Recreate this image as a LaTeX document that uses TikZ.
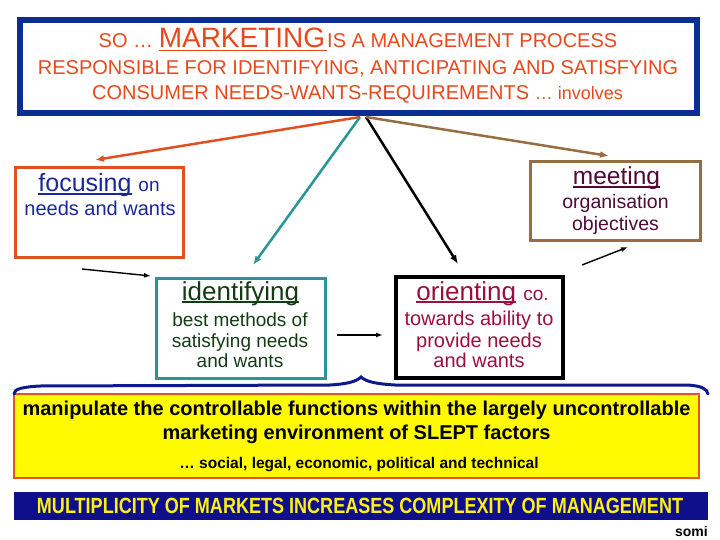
\documentclass[tikz,border=0pt]{standalone}
\usepackage{fontspec}
\setmainfont{Liberation Sans}
\newfontfamily\narrowsans[FakeStretch=0.82]{Liberation Sans}
\usetikzlibrary{arrows.meta}
\definecolor{topblue}{RGB}{12,45,145}
\definecolor{toptext}{RGB}{232,72,28}
\definecolor{focusborder}{RGB}{225,80,35}
\definecolor{focustext}{RGB}{25,40,150}
\definecolor{meetborder}{RGB}{150,110,65}
\definecolor{meettext}{RGB}{80,10,55}
\definecolor{identborder}{RGB}{40,150,150}
\definecolor{identtext}{RGB}{20,60,20}
\definecolor{orienttext}{RGB}{155,15,60}
\definecolor{yellowfill}{RGB}{255,250,0}
\definecolor{yellowborder}{RGB}{230,85,30}
\definecolor{bracecol}{RGB}{15,25,140}
\definecolor{barfill}{RGB}{15,15,140}
\definecolor{bartext}{RGB}{255,240,20}
\newcommand{\fs}[1]{\fontsize{#1}{#1}\selectfont}
\newsavebox{\ulbox}
\newcommand{\myul}[1]{\sbox{\ulbox}{#1}\rlap{\rule[-0.12em]{\wd\ulbox}{0.065em}}\usebox{\ulbox}}
\begin{document}
\begin{tikzpicture}[x=1pt,y=-1pt,
  box/.style={rectangle,inner sep=0pt,outer sep=0pt},
  txt/.style={inner sep=0pt,anchor=base},
  bigarrow/.style={line width=2.5pt,-{Latex[length=9pt,width=7pt]}},
  smallarrow/.style={line width=1.4pt,black,-{Latex[length=7pt,width=5pt]}}]
\useasboundingbox (0,0) rectangle (720,540);

% top box
\node[box,draw=topblue,line width=6pt,minimum width=677pt,minimum height=93pt] (topbox) at (358.5,66.5) {};
\node[txt,text=toptext] (t1) at (358,48) {\fs{20}SO \dots\ \fs{28}\myul{MARKETING\hspace{2pt}}\fs{20}IS A MANAGEMENT PROCESS};
\node[txt,text=toptext] (t2) at (358,75) {\fs{20}RESPONSIBLE FOR IDENTIFYING, ANTICIPATING AND SATISFYING};
\node[txt,text=toptext] (t3) at (357.5,100) {\fs{20}CONSUMER NEEDS-WANTS-REQUIREMENTS \fs{18}\dots\ involves};

% focusing box
\node[box,draw=focusborder,line width=3pt,minimum width=168pt,minimum height=90pt] (focusbox) at (99.5,212.5) {};
\node[txt,text=focustext] (f1) at (99,192) {\fs{25}\myul{focusing} \fs{19}on};
\node[txt,text=focustext] (f2) at (100,215) {\fs{20}needs and wants};

% meeting box
\node[box,draw=meetborder,line width=3pt,minimum width=170pt,minimum height=78.5pt] (meetbox) at (615.5,200.75) {};
\node[txt,text=meettext] (m1) at (616.5,185) {\fs{24.5}\myul{meeting}};
\node[txt,text=meettext] (m2) at (615.5,209) {\fs{19.5}organisation};
\node[txt,text=meettext] (m3) at (615.5,230) {\fs{19.5}objectives};

% identifying box
\node[box,draw=identborder,line width=3pt,minimum width=169pt,minimum height=100pt] (identbox) at (241,328.5) {};
\node[txt,text=identtext] (i1) at (240.5,300) {\fs{26}\myul{identifying}};
\node[txt,text=identtext] (i2) at (240,326) {\fs{19}best methods of};
\node[txt,text=identtext] (i3) at (240,347) {\fs{19}satisfying needs};
\node[txt,text=identtext] (i4) at (240,367) {\fs{19}and wants};

% orienting box
\node[box,draw=black,line width=4pt,minimum width=167pt,minimum height=101pt] (orientbox) at (479.5,327.5) {};
\node[txt,text=orienttext] (o1) at (482.5,300) {\fs{26}\myul{orienting} \fs{19}co.};
\node[txt,text=orienttext] (o2) at (479,325) {\fs{20}towards ability to};
\node[txt,text=orienttext] (o3) at (479,347) {\fs{20}provide needs};
\node[txt,text=orienttext] (o4) at (479,367) {\fs{20}and wants};

% yellow box
\node[box,draw=yellowborder,fill=yellowfill,line width=2.5pt,minimum width=685pt,minimum height=84pt] (yellowbox) at (356.5,436) {};
\node[txt] (y1) at (356.5,415) {\fs{20}\bfseries manipulate the controllable functions within the largely uncontrollable};
\node[txt] (y2) at (356.5,439) {\fs{20}\bfseries marketing environment of SLEPT factors};
\node[txt] (y3) at (359,468) {\fs{15.5}\bfseries \dots\ social, legal, economic, political and technical};

% brace
\draw[bracecol,line width=3pt,line cap=round] (14,394) .. controls (14,389) and (22,387) .. (40,386) -- (330,385) .. controls (346,384) and (356,382) .. (361,377) .. controls (366,382) and (378,384) .. (395,385) -- (688,385) .. controls (702,386) and (707,389) .. (708,394);

% bottom bar
\node[box,fill=barfill,minimum width=694pt,minimum height=28pt] (bar) at (361,506) {};
\node[txt,text=bartext] (b1) at (360,513) {\narrowsans\fs{22}\bfseries MULTIPLICITY OF MARKETS INCREASES COMPLEXITY OF MANAGEMENT};
\node[txt,anchor=base east] (somi) at (708,536) {\fs{14}\bfseries somi};

% arrows from top box
\coordinate (hubA) at (360,117);
\coordinate (hubB) at (366,117);
\coordinate (endF) at (95,160);
\coordinate (endI) at (253,265);
\coordinate (endO) at (458,264);
\coordinate (endM) at (609,156);
\draw[bigarrow,focusborder] (hubA) -- (endF);
\draw[bigarrow,identborder] (hubA) -- (endI);
\draw[bigarrow,black] (hubB) -- (endO);
\draw[bigarrow,meetborder] (hubB) -- (endM);

% small arrows
\coordinate (sa1) at (82,269);
\coordinate (sa2) at (151,276);
\draw[smallarrow] (sa1) -- (sa2);
\coordinate (sb1) at (337,335);
\coordinate (sb2) at (383,335);
\draw[smallarrow] (sb1) -- (sb2);
\coordinate (sc1) at (582,265);
\coordinate (sc2) at (628,247);
\draw[smallarrow] (sc1) -- (sc2);
\end{tikzpicture}
\end{document}
